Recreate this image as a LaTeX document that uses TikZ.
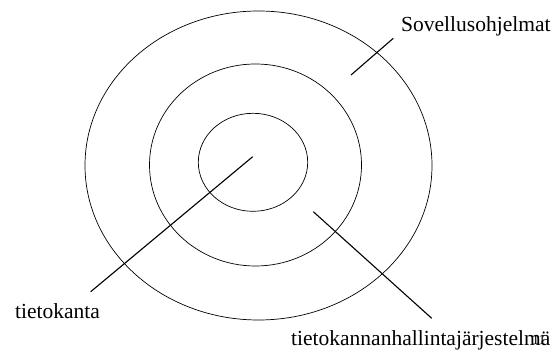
\documentclass[tikz,border=0pt]{standalone}
\usepackage{fontspec}
\setmainfont{Liberation Serif}
\begin{document}
\begin{tikzpicture}[x=1pt,y=-1pt]
\tikzset{ring/.style={line width=0.7pt},
  leader/.style={line width=1.1pt},
  lbl/.style={anchor=base west,inner sep=0pt,font=\fontsize{21.5}{24}\selectfont}}
\useasboundingbox (0,0) rectangle (556,355);
% rings
\draw[ring] (258.5,165.5) ellipse [x radius=173.5,y radius=154.5];
\draw[ring] (255.5,165) ellipse [x radius=106,y radius=101];
\draw[ring] (253,162.3) ellipse [x radius=54.7,y radius=49];
% labels
\node[lbl] (sovellus) at (401,31.5) {Sovellusohjelmat};
\node[lbl] (kanta) at (15,318) {tietokanta};
\node[lbl] (dbms) at (291,345) {tietokannanhallintajärjestelmä};
\node[anchor=base west,inner sep=0pt,font=\fontsize{14}{16}\selectfont] (sivu) at (532,344) {11};
% leaders
\coordinate (s1) at (351,75);
\coordinate (s2) at (393.3,38.3);
\coordinate (k1) at (252.7,156.7);
\coordinate (k2) at (90.7,291.7);
\coordinate (d1) at (313.3,211.7);
\coordinate (d2) at (431.7,318.3);
\draw[leader] (s1) -- (s2);
\draw[leader] (k1) -- (k2);
\draw[leader] (d1) -- (d2);
\end{tikzpicture}
\end{document}
